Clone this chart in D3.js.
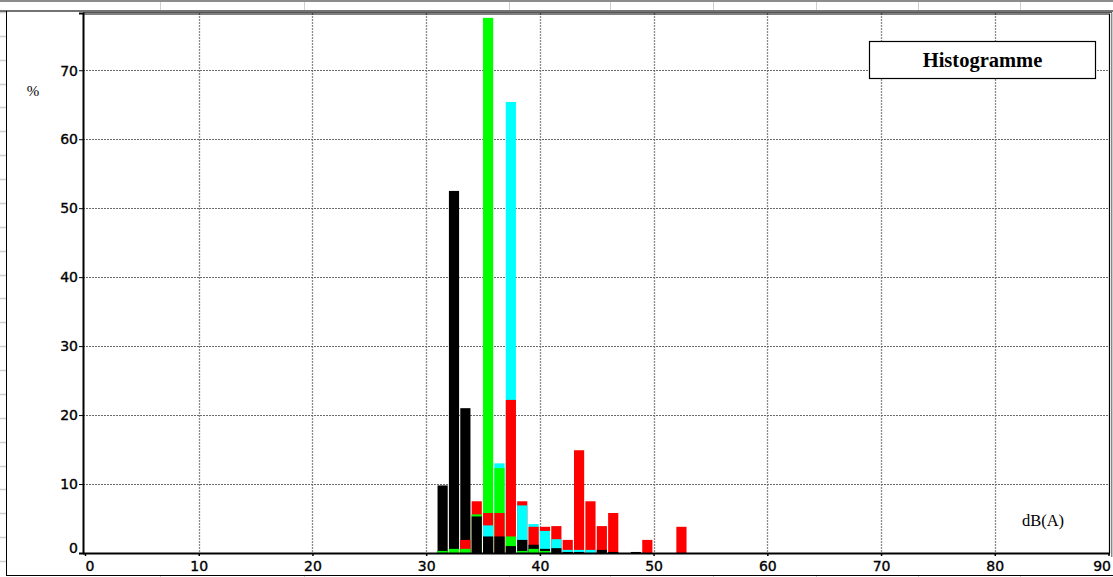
<!DOCTYPE html>
<html>
<head>
<meta charset="utf-8">
<script src="https://cdn.jsdelivr.net/npm/d3@7"></script>
<style>
  html, body { margin: 0; padding: 0; background: #fff; }
  svg { display: block; }
</style>
</head>
<body>
<svg id="chart" width="1113" height="577"></svg>
<script>
// Sound level classes (dB(A)), one bar per 1 dB class
const levels = [31, 32, 33, 34, 35, 36, 37, 38, 39, 40, 41, 42, 43, 44, 45, 46, 47, 48, 49, 50, 51, 52];

// Share of time (%) in each class, per measurement
const seriesBlack = [9.8, 52.5, 21.0, 5.3, 2.4, 2.4, 1.0, 1.9, 1.2, 0.6, 0.7, 0.15, 0.15, 0, 0.45, 0.15, 0, 0.15, 0, 0, 0, 0];
const seriesGreen = [0.3, 0.6, 0.6, 5.6, 77.6, 12.3, 2.4, 0.3, 0.6, 0.3, 0, 0, 0, 0, 0, 0, 0, 0, 0, 0, 0, 0];
const seriesCyan  = [0, 0, 0, 0, 4.0, 13.0, 65.4, 6.9, 4.2, 3.2, 2.0, 0.45, 0.45, 0.45, 0, 0, 0, 0, 0, 0, 0, 0];
const seriesRed   = [0, 0, 1.9, 7.5, 5.8, 5.8, 22.2, 7.5, 3.8, 3.8, 3.9, 1.9, 14.9, 7.5, 3.9, 5.8, 0, 0, 1.9, 0, 0, 3.8];

const xTicks = [0, 10, 20, 30, 40, 50, 60, 70, 80, 90];
const yTicks = [0, 10, 20, 30, 40, 50, 60, 70];

const seriesList = [
  { name: "noir",  color: "#000000", values: seriesBlack },
  { name: "vert",  color: "#00ff00", values: seriesGreen },
  { name: "cyan",  color: "#00ffff", values: seriesCyan },
  { name: "rouge", color: "#ff0000", values: seriesRed }
];

const svg = d3.select("#chart");
const W = 1113, H = 577;

// ---- worksheet background (cell grid around the embedded chart) ----
const sheet = svg.append("g");
const colLines = [160, 304, 509, 610, 713, 816, 918, 1020];
colLines.forEach(x => {
  sheet.append("line").attr("x1", x + 0.5).attr("x2", x + 0.5).attr("y1", 2).attr("y2", 10)
    .attr("stroke", "#cfcfcf").attr("stroke-width", 1);
  sheet.append("line").attr("x1", x + 0.5).attr("x2", x + 0.5).attr("y1", 576).attr("y2", 577)
    .attr("stroke", "#cfcfcf").attr("stroke-width", 1);
});
for (let k = 0; k < 24; k++) {
  const y = Math.round(12 + 23.87 * k) + 0.5;
  sheet.append("line").attr("x1", 0).attr("x2", 6).attr("y1", y).attr("y2", y)
    .attr("stroke", "#cfcfcf").attr("stroke-width", 1.5);
}
sheet.append("line").attr("x1", 0).attr("x2", W).attr("y1", 1).attr("y2", 1)
  .attr("stroke", "#666").attr("stroke-width", 1.5);
// chart object border
sheet.append("line").attr("x1", 0).attr("x2", W).attr("y1", 11).attr("y2", 11)
  .attr("stroke", "#444").attr("stroke-width", 1.5);
sheet.append("line").attr("x1", 6.5).attr("x2", 6.5).attr("y1", 11).attr("y2", 576)
  .attr("stroke", "#000").attr("stroke-width", 1);
sheet.append("line").attr("x1", 6.5).attr("x2", W).attr("y1", 575.5).attr("y2", 575.5)
  .attr("stroke", "#000").attr("stroke-width", 1);

// ---- plot area ----
const plot = { left: 83, top: 13, right: 1110, bottom: 553 };

const x = d3.scaleLinear().domain([0, 90]).range([85, 1108.5]);
const y = d3.scaleLinear().domain([0, 78.3]).range([plot.bottom, plot.top]);

// gridlines
const grid = svg.append("g");
grid.selectAll("line.v").data(xTicks.filter(d => d > 0 && d < 90)).join("line")
  .attr("class", "v")
  .attr("x1", d => Math.round(x(d)) + 0.5).attr("x2", d => Math.round(x(d)) + 0.5)
  .attr("y1", plot.top).attr("y2", plot.bottom)
  .attr("stroke", "#8a8a8a").attr("stroke-width", 1.3).attr("stroke-dasharray", "2,1");
grid.selectAll("line.h").data(yTicks.filter(d => d > 0)).join("line")
  .attr("class", "h")
  .attr("x1", plot.left).attr("x2", plot.right)
  .attr("y1", d => Math.round(y(d)) + 0.5).attr("y2", d => Math.round(y(d)) + 0.5)
  .attr("stroke", "#6a6a6a").attr("stroke-width", 1).attr("stroke-dasharray", "2,1");

// bars: in every class, the tallest bar sits behind, shorter ones in front
const step = x(1) - x(0);
const barRows = [];
levels.forEach((lv, i) => {
  const items = seriesList.map(s => ({ level: lv, value: s.values[i], color: s.color }))
    .filter(d => d.value > 0)
    .sort((a, b) => b.value - a.value);
  items.forEach(d => barRows.push(d));
});
svg.append("g").selectAll("rect").data(barRows).join("rect")
  .attr("x", d => x(d.level))
  .attr("width", step - 1.2)
  .attr("y", d => y(d.value))
  .attr("height", d => y(0) - y(d.value))
  .attr("fill", d => d.color);

// frame
svg.append("line").attr("x1", plot.left).attr("x2", plot.right + 2).attr("y1", 12.5).attr("y2", 12.5)
  .attr("stroke", "#555").attr("stroke-width", 1);
svg.append("line").attr("x1", plot.left).attr("x2", plot.right).attr("y1", 14).attr("y2", 14)
  .attr("stroke", "#000").attr("stroke-width", 1.2);
svg.append("line").attr("x1", 1109.5).attr("x2", 1109.5).attr("y1", 14).attr("y2", plot.bottom)
  .attr("stroke", "#000").attr("stroke-width", 1.2);
svg.append("line").attr("x1", 1111.8).attr("x2", 1111.8).attr("y1", 12.5).attr("y2", 557)
  .attr("stroke", "#555").attr("stroke-width", 1);

// axes
const fontAxis = "'DejaVu Sans', Verdana, sans-serif";

const yAxis = d3.axisLeft(y).tickValues(yTicks).tickSize(4).tickPadding(2).tickFormat(d3.format("d"));
const gy = svg.append("g").attr("transform", `translate(${plot.left},0)`).call(yAxis);
gy.select(".domain").attr("stroke", "#000").attr("stroke-width", 2);
gy.selectAll(".tick line").attr("stroke", "#000").attr("stroke-width", 1);
gy.selectAll(".tick text")
  .attr("font-family", fontAxis).attr("font-size", "14px").attr("fill", "#000")
  .attr("stroke", "#000").attr("stroke-width", 0.35)
  .attr("x", -5)
  .attr("dy", d => d === 0 ? "-0.05em" : "0.34em");

const xAxis = d3.axisBottom(x).tickValues(xTicks).tickSize(3).tickPadding(5).tickFormat(d3.format("d"));
const gx = svg.append("g").attr("transform", `translate(0,${plot.bottom})`).call(xAxis);
gx.select(".domain").attr("stroke", "#000").attr("stroke-width", 2)
  .attr("d", `M${plot.left},0.5H${plot.right}`);
gx.selectAll(".tick line").attr("stroke", "#000").attr("stroke-width", 1.5);
gx.selectAll(".tick text")
  .attr("font-family", fontAxis).attr("font-size", "14px").attr("fill", "#000")
  .attr("stroke", "#000").attr("stroke-width", 0.35)
  .attr("text-anchor", d => d === 0 ? "start" : d === 90 ? "end" : "middle")
  .attr("dx", d => d === 90 ? "2px" : "0");

// unit labels
svg.append("text").attr("x", 33).attr("y", 96).attr("text-anchor", "middle")
  .attr("font-family", "'Liberation Serif', 'Times New Roman', serif").attr("font-size", "15px")
  .text("%");
svg.append("text").attr("x", 1043).attr("y", 526).attr("text-anchor", "middle")
  .attr("font-family", "'Liberation Serif', 'Times New Roman', serif").attr("font-size", "16.5px")
  .text("dB(A)");

// title box
svg.append("rect").attr("x", 869.5).attr("y", 41.5).attr("width", 226).attr("height", 37)
  .attr("fill", "#fff").attr("stroke", "#000").attr("stroke-width", 1.2);
svg.append("text").attr("x", 982.5).attr("y", 67).attr("text-anchor", "middle")
  .attr("font-family", "'Liberation Serif', 'Times New Roman', serif").attr("font-weight", "bold")
  .attr("font-size", "20.5px")
  .text("Histogramme");
</script>
</body>
</html>
